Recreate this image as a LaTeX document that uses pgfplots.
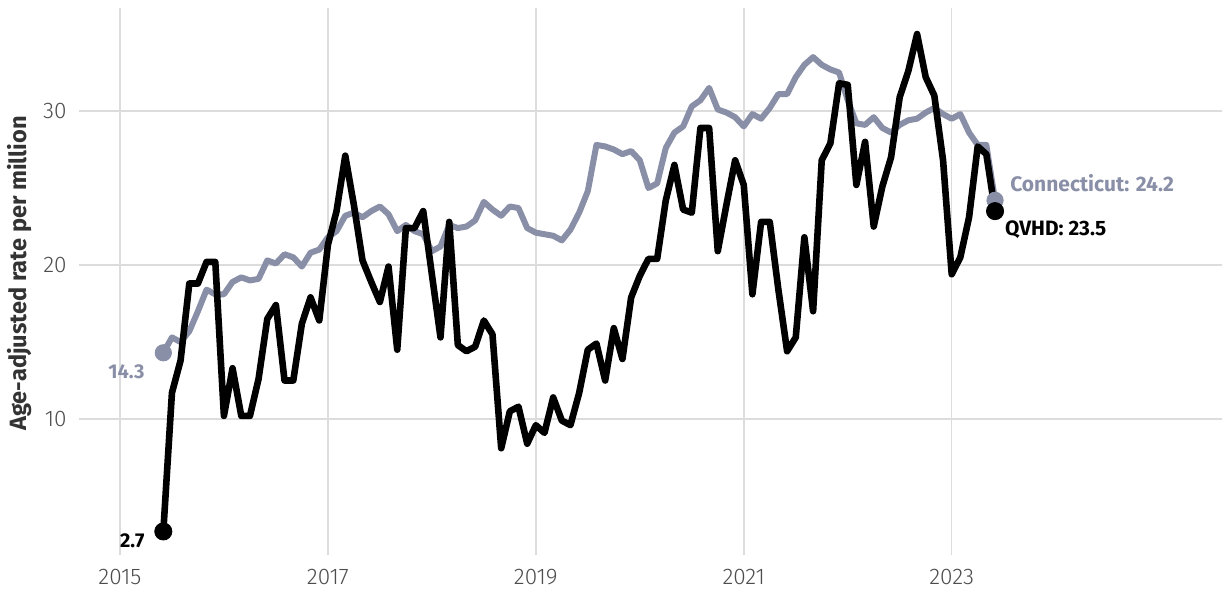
\documentclass[border=0pt]{standalone}
\usepackage{pgfplots}
\pgfplotsset{compat=1.18}
\usepackage{pgfplotstable}
\usepackage{fontspec}
\setmainfont{Fira Sans}
\newfontfamily\lightfont{Fira Sans Light}
\definecolor{ctgray}{RGB}{138,143,168}
\definecolor{gridc}{RGB}{220,220,220}
\definecolor{tickc}{RGB}{77,77,77}
\definecolor{labc}{RGB}{51,51,51}

\pgfplotstableread{
t qvhd ct
2015.417 2.7 14.3
2015.500 11.7 15.3
2015.583 13.8 15.0
2015.667 18.8 15.7
2015.750 18.8 17.0
2015.833 20.2 18.4
2015.917 20.2 18.1
2016.000 10.2 18.1
2016.083 13.3 18.9
2016.167 10.2 19.2
2016.250 10.2 19.0
2016.333 12.6 19.1
2016.417 16.5 20.3
2016.500 17.4 20.1
2016.583 12.5 20.7
2016.667 12.5 20.5
2016.750 16.2 19.9
2016.833 17.9 20.8
2016.917 16.4 21.0
2017.000 21.3 21.8
2017.083 23.5 22.2
2017.167 27.1 23.2
2017.250 23.9 23.4
2017.333 20.3 23.1
2017.417 18.9 23.5
2017.500 17.6 23.8
2017.583 19.9 23.3
2017.667 14.5 22.2
2017.750 22.4 22.6
2017.833 22.4 22.2
2017.917 23.5 22.0
2018.000 19.4 20.9
2018.083 15.3 21.2
2018.167 22.8 22.6
2018.250 14.8 22.4
2018.333 14.4 22.5
2018.417 14.7 22.9
2018.500 16.4 24.1
2018.583 15.5 23.6
2018.667 8.1 23.2
2018.750 10.5 23.8
2018.833 10.8 23.7
2018.917 8.4 22.4
2019.000 9.6 22.1
2019.083 9.1 22.0
2019.167 11.4 21.9
2019.250 9.9 21.6
2019.333 9.6 22.3
2019.417 11.7 23.4
2019.500 14.5 24.8
2019.583 14.9 27.8
2019.667 12.5 27.7
2019.750 15.9 27.5
2019.833 13.9 27.2
2019.917 17.9 27.4
2020.000 19.3 26.8
2020.083 20.4 25.0
2020.167 20.4 25.3
2020.250 24.2 27.6
2020.333 26.5 28.6
2020.417 23.6 29.0
2020.500 23.4 30.3
2020.583 28.9 30.7
2020.667 28.9 31.5
2020.750 20.9 30.1
2020.833 23.9 29.9
2020.917 26.8 29.6
2021.000 25.2 29.0
2021.083 18.1 29.8
2021.167 22.8 29.5
2021.250 22.8 30.2
2021.333 18.4 31.1
2021.417 14.4 31.1
2021.500 15.3 32.2
2021.583 21.8 33.0
2021.667 17.0 33.5
2021.750 26.8 33.0
2021.833 27.9 32.7
2021.917 31.8 32.5
2022.000 31.7 30.7
2022.083 25.2 29.2
2022.167 28.0 29.1
2022.250 22.5 29.6
2022.333 25.1 28.9
2022.417 27.0 28.6
2022.500 30.9 29.1
2022.583 32.6 29.4
2022.667 35.0 29.5
2022.750 32.2 29.9
2022.833 31.0 30.2
2022.917 26.8 29.8
2023.000 19.4 29.5
2023.083 20.5 29.8
2023.167 23.1 28.6
2023.250 27.7 27.8
2023.333 27.2 27.8
2023.417 23.5 24.2
}\data

\pgfplotstableread{
t v
2015.417 14.3
2023.417 24.2
}\ctends

\pgfplotstableread{
t v
2015.417 2.7
2023.417 23.5
}\qvends

\begin{document}
\begin{tikzpicture}
\begin{axis}[
  scale only axis,
  width=571.5pt, height=273.5pt,
  xmin=2014.606, xmax=2025.6,
  ymin=1.17, ymax=36.69,
  axis line style={draw=none},
  tick style={draw=none},
  major tick length=0pt,
  xtick={2015,2017,2019,2021,2023},
  ytick={10,20,30},
  grid=major,
  major grid style={gridc, line width=0.75pt},
  /pgf/number format/assume math mode=true,
  /pgf/number format/1000 sep={},
  xticklabel style={font=\lightfont\fontsize{11.3}{13}\selectfont, text=tickc, anchor=north, inner sep=0pt, yshift=-7pt},
  yticklabel style={font=\lightfont\fontsize{11.3}{13}\selectfont, text=tickc, anchor=east, inner sep=0pt, xshift=-6pt},
  ylabel={Age-adjusted rate per million},
  ylabel style={font=\bfseries\fontsize{11.8}{13}\selectfont, text=labc, at={(axis description cs:-0.0516,0.515)}, anchor=center},
  clip=false,
]
\addplot[ctgray, line width=3pt, line join=round, line cap=round] table[x=t, y=ct] {\data};
\addplot[black, line width=3.3pt, line join=round, line cap=round] table[x=t, y=qvhd] {\data};
\addplot[only marks, mark=*, mark size=4.1pt, mark options={fill=ctgray, draw=ctgray}] table[x=t, y=v] {\ctends};
\addplot[only marks, mark=*, mark size=4.3pt, mark options={fill=black, draw=black}] table[x=t, y=v] {\qvends};
\node[anchor=east, inner sep=0pt, text=ctgray, font=\bfseries\fontsize{10}{11}\selectfont] at (axis cs:2015.24,13.1) {14.3};
\node[anchor=east, inner sep=0pt, text=black, font=\bfseries\fontsize{10}{11}\selectfont] at (axis cs:2015.24,2.1) {2.7};
\node[anchor=west, inner sep=0pt, text=ctgray, font=\bfseries\fontsize{10.5}{11}\selectfont] at (axis cs:2023.56,25.3) {Connecticut: 24.2};
\node[anchor=west, inner sep=0pt, text=black, font=\bfseries\fontsize{10.4}{11}\selectfont] at (axis cs:2023.51,22.3) {QVHD: 23.5};
\end{axis}
\pgfresetboundingbox
\path[use as bounding box] (-39.5pt,-20pt) rectangle (573pt,277.5pt);
\end{tikzpicture}
\end{document}
